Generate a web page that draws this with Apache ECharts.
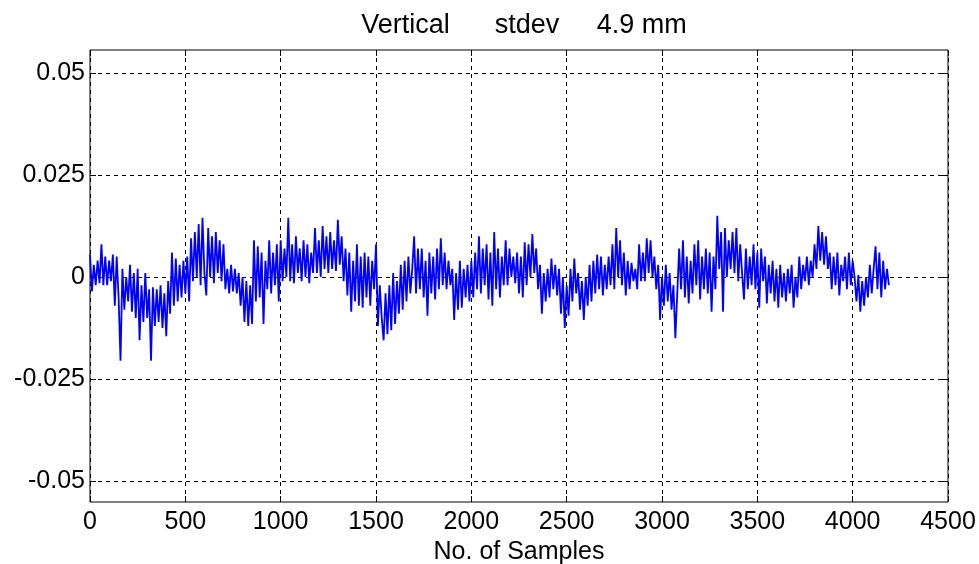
<!DOCTYPE html>
<html>
<head>
<meta charset="utf-8">
<script src="https://cdn.jsdelivr.net/npm/echarts@6/dist/echarts.min.js"></script>
<style>
  html, body { margin: 0; padding: 0; background: #fff; }
  #chart { width: 979px; height: 564px; }
</style>
</head>
<body>
<div id="chart"></div>
<script>
// one value every 10 samples (metres)
const sampleStep = 10
const vertical = [
  0.0055, -0.0035, 0.003, -0.002, 0.004, -0.0015, 0.008, -0.002, 0.005, -0.002, 0.004, -0.001, 0.0055, -0.007, 0.005, -0.005,
  -0.0205, 0.002, -0.008, 0, -0.006, 0.003, -0.0085, 0.001, -0.01, 0.002, -0.0155, -0.002, -0.011, 0.001, -0.01, -0.003,
  -0.0205, -0.0025, -0.012, -0.003, -0.011, -0.002, -0.0125, -0.004, -0.0145, -0.001, -0.009, 0.006, -0.007, 0.0045, -0.006, 0.003,
  -0.005, 0.004, -0.004, 0.005, -0.006, 0.0095, -0.001, 0.011, 0, 0.013, -0.002, 0.0145, 0.001, -0.0045, 0.012, 0,
  0.01, -0.0015, 0.011, 0.001, 0.009, -0.001, 0.008, -0.003, 0.002, -0.004, 0.003, -0.0035, 0.002, -0.004, 0.001, -0.007,
  0, -0.011, -0.001, -0.012, -0.002, -0.0115, 0.009, -0.006, 0.0075, -0.005, 0.006, -0.0115, 0.004, -0.003, 0.009, -0.004,
  0.006, -0.002, 0.008, -0.006, 0.009, -0.001, 0.007, 0, 0.0145, -0.001, 0.008, -0.0015, 0.01, 0.001, 0.007, -0.001,
  0.009, 0, 0.008, -0.0015, 0.006, 0.001, 0.012, 0.001, 0.009, 0, 0.0125, 0.002, 0.01, 0.001, 0.011, 0.002,
  0.009, 0.0015, 0.014, 0.003, 0.01, -0.001, 0.007, -0.0045, 0.006, -0.0085, 0.004, -0.006, 0.008, -0.007, 0.005, -0.0075,
  0.006, -0.005, 0.005, -0.007, 0.004, -0.003, 0.008, -0.012, -0.002, -0.01, -0.0155, -0.004, -0.014, -0.002, -0.013, 0.001,
  -0.0115, -0.001, -0.009, 0.003, -0.008, 0.004, -0.006, 0.005, -0.004, 0.002, 0.01, -0.004, 0.007, -0.003, 0.007, -0.005,
  0.004, -0.0095, 0.006, -0.004, 0.005, -0.0055, 0.007, -0.003, 0.0095, -0.002, 0.006, -0.003, 0.004, -0.002, 0.002, -0.0105,
  0.001, -0.008, 0.004, -0.0075, 0.002, -0.005, 0.003, -0.006, 0.004, -0.005, 0.006, -0.003, 0.01, -0.004, 0.007, -0.002,
  0.008, -0.0055, 0.006, -0.007, 0.011, -0.003, 0.007, -0.005, 0.005, -0.002, 0.009, -0.002, 0.007, 0, 0.005, -0.0015,
  0.006, -0.004, 0.005, -0.005, 0.0085, -0.002, 0.008, 0, 0.0105, 0.001, 0.007, -0.003, 0.003, -0.009, 0.001, -0.006,
  0.002, -0.005, 0.0045, -0.003, 0.003, -0.0045, 0.002, -0.009, 0, -0.0125, -0.002, -0.0095, 0.002, -0.006, 0.0045, -0.004,
  0.001, -0.008, -0.001, -0.0105, 0, -0.007, 0.003, -0.006, 0.004, -0.004, 0.0055, -0.003, 0.005, -0.0045, 0.003, -0.003,
  0.005, -0.002, 0.008, -0.003, 0.012, 0, 0.009, -0.002, 0.006, -0.0045, 0.004, -0.003, 0.0035, -0.001, 0.002, -0.003,
  0.008, -0.001, 0.006, -0.001, 0.0095, 0.001, 0.009, 0, 0.005, -0.003, 0.003, -0.0105, 0, -0.007, 0.003, -0.006,
  0.001, -0.008, -0.002, -0.015, -0.004, 0.007, -0.003, 0.009, -0.005, 0.005, -0.0065, 0.004, -0.004, 0.008, -0.002, 0.009,
  -0.0055, 0.005, -0.003, 0.007, -0.004, 0.006, -0.0085, 0.005, -0.003, 0.015, 0.002, 0.011, -0.0085, 0.012, 0, 0.009,
  0.002, 0.011, 0.001, 0.012, -0.001, 0.008, 0.001, -0.0055, 0.007, -0.003, 0.005, -0.002, 0.008, -0.003, 0.006, -0.0075,
  0.007, -0.001, 0.005, -0.0065, 0.003, -0.004, 0.004, -0.006, 0.002, -0.0075, 0.003, -0.005, 0.001, -0.006, 0.002, -0.004,
  0.003, -0.0075, 0, -0.005, 0.005, -0.003, 0.003, -0.001, 0.005, -0.002, 0.004, 0, 0.008, 0.002, 0.0125, 0.004,
  0.011, 0.003, 0.01, 0.002, 0.006, -0.003, 0.005, -0.002, 0.006, -0.0045, 0.003, -0.001, 0.005, -0.003, 0.006, -0.002,
  0.004, 0, -0.006, 0.0005, -0.0085, -0.001, -0.007, 0, -0.005, 0.003, -0.004, 0.002, 0.0075, -0.003, 0.006, -0.005,
  0.004, -0.003, 0.002, -0.002
]
const yTicks = [-0.05, -0.025, 0, 0.025, 0.05]
const yTickLabels = ['-0.05', '-0.025', '0', '0.025', '0.05']

const chart = echarts.init(document.getElementById('chart'))
const font = 'Liberation Sans, Arial, sans-serif'

// MATLAB-like axes: ticks inside on all four sides
const xBase = {
  type: 'value',
  min: 0,
  max: 4500,
  interval: 500,
  axisLine: { show: false, onZero: false },
  axisTick: { show: true, inside: true, length: 6, lineStyle: { color: '#000' } },
}
const yBase = {
  type: 'value',
  min: -0.0551,
  max: 0.0556,
  axisLine: { show: false, onZero: false },
  axisTick: { show: true, inside: true, length: 6, customValues: yTicks, lineStyle: { color: '#000' } },
}

chart.setOption({
  animation: false,
  backgroundColor: '#fff',
  title: {
    text: 'Vertical      stdev     4.9 mm',
    left: 519,
    textAlign: 'center',
    top: 7,
    textStyle: { fontFamily: font, fontSize: 27, fontWeight: 'normal', color: '#000' }
  },
  grid: {
    left: 90,
    right: 31,
    top: 50,
    bottom: 62,
    outerBoundsMode: 'none',
    show: true,
    borderColor: '#000',
    borderWidth: 1
  },
  xAxis: [
    Object.assign({}, xBase, {
      position: 'bottom',
      name: 'No. of Samples',
      nameLocation: 'middle',
      nameGap: 37,
      nameTextStyle: { fontFamily: font, fontSize: 25, color: '#000' },
      axisLabel: { margin: 8, fontFamily: font, fontSize: 25, color: '#000', formatter: v => String(v) },
      splitLine: { show: true, lineStyle: { color: '#000', type: [4, 4], width: 1 } }
    }),
    Object.assign({}, xBase, {
      position: 'top',
      axisLabel: { show: false },
      splitLine: { show: false }
    })
  ],
  yAxis: [
    Object.assign({}, yBase, {
      position: 'left',
      axisLabel: {
        margin: 5,
        customValues: yTicks,
        fontFamily: font,
        fontSize: 25,
        color: '#000',
        formatter: v => yTickLabels[yTicks.indexOf(v)] ?? String(v)
      },
      splitLine: { show: true, lineStyle: { color: '#000', type: [4, 4], width: 1 } }
    }),
    Object.assign({}, yBase, {
      position: 'right',
      axisLabel: { show: false },
      splitLine: { show: false }
    })
  ],
  series: [
    {
      type: 'line',
      xAxisIndex: 0,
      yAxisIndex: 0,
      data: vertical.map((v, i) => [i * sampleStep, v]),
      showSymbol: false,
      lineStyle: { color: '#0000ff', width: 1.8 },
      itemStyle: { color: '#0000ff' }
    }
  ]
})
</script>
</body>
</html>
